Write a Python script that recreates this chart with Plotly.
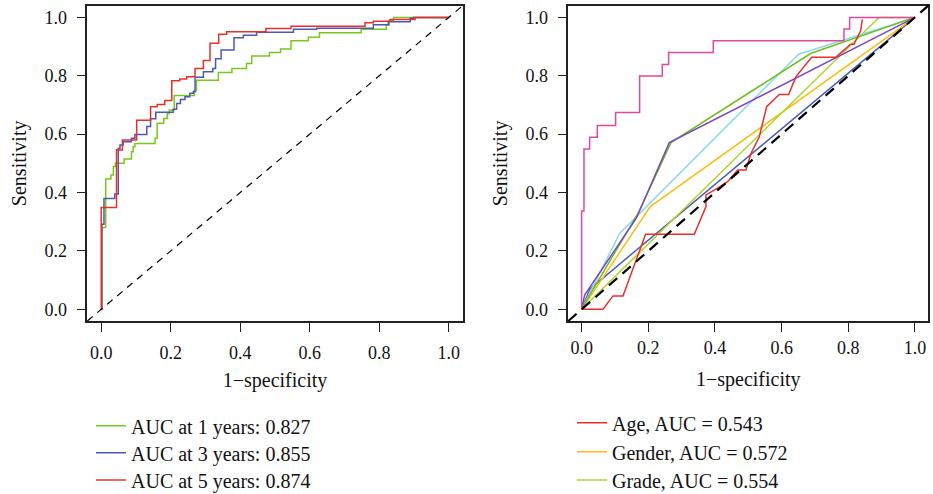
import plotly.graph_objects as go

# ---------------- Left panel: time-dependent ROC ----------------
yr1_x = [0, 0.002, 0.013, 0.028, 0.035, 0.041, 0.066, 0.087, 0.092, 0.097, 0.155, 0.161, 0.180, 0.190, 0.196,
         0.210, 0.268, 0.274, 0.337, 0.376, 0.418, 0.433, 0.484, 0.516, 0.546, 0.596, 0.628, 0.748, 0.820, 0.829,
         0.841, 1.0]
yr1_y = [0, 0.280, 0.446, 0.460, 0.489, 0.500, 0.515, 0.540, 0.557, 0.568, 0.586, 0.637, 0.654, 0.671, 0.683,
         0.732, 0.749, 0.785, 0.811, 0.825, 0.842, 0.868, 0.880, 0.892, 0.920, 0.932, 0.947, 0.959, 0.974, 0.989,
         1.0, 1.0]

yr3_x = [0, 0.002, 0.008, 0.039, 0.049, 0.054, 0.063, 0.087, 0.097, 0.131, 0.142, 0.157, 0.207, 0.217, 0.228,
         0.241, 0.255, 0.265, 0.270, 0.294, 0.321, 0.329, 0.345, 0.382, 0.409, 0.447, 0.553, 0.620, 0.783, 0.826,
         0.889, 0.898, 1.0]
yr3_y = [0, 0.291, 0.380, 0.395, 0.551, 0.563, 0.574, 0.586, 0.599, 0.626, 0.653, 0.675, 0.685, 0.705, 0.719,
         0.728, 0.740, 0.745, 0.795, 0.814, 0.825, 0.858, 0.888, 0.930, 0.939, 0.949, 0.959, 0.963, 0.975, 0.985,
         0.997, 1.0, 1.0]

yr5_x = [0, 0, 0.044, 0.061, 0.102, 0.142, 0.161, 0.183, 0.203, 0.226, 0.246, 0.270, 0.294, 0.313, 0.338,
         0.361, 0.474, 0.546, 0.759, 0.783, 0.831, 0.903, 1.0]
yr5_y = [0, 0.349, 0.546, 0.580, 0.648, 0.694, 0.702, 0.715, 0.783, 0.789, 0.797, 0.825, 0.852, 0.911, 0.942,
         0.951, 0.962, 0.970, 0.982, 0.987, 0.993, 1.0, 1.0]

left_names = ["AUC at 1 years: 0.827", "AUC at 3 years: 0.855", "AUC at 5 years: 0.874"]
left_colors = ["#76C81B", "#4E56B8", "#E8302A"]

# ---------------- Right panel: clinical variables ROC ----------------
age_x = [0, 0.064, 0.094, 0.124, 0.192, 0.338, 0.373, 0.373, 0.403, 0.438, 0.468, 0.493, 0.508, 0.533, 0.555,
         0.593, 0.621, 0.643, 0.690, 0.762, 0.807, 0.817, 0.837, 0.842]
age_y = [0, 0, 0.046, 0.046, 0.257, 0.257, 0.352, 0.392, 0.412, 0.437, 0.477, 0.477, 0.534, 0.591, 0.694,
         0.736, 0.736, 0.797, 0.863, 0.863, 0.908, 0.908, 0.954, 0.993]

gender_x = [0, 0.206, 1.0]
gender_y = [0, 0.352, 1.0]

grade_x = [0, 0.892, 1.0]
grade_y = [0, 1.0, 1.0]

stage_x = [0, 0.03, 0.17, 0.268, 0.688, 1.0]
stage_y = [0, 0.06, 0.33, 0.571, 0.877, 1.0]

t_x = [0, 0.114, 0.651, 1.0]
t_y = [0, 0.26, 0.874, 1.0]

m_x = [0, 0.025, 1.0]
m_y = [0, 0.07, 1.0]

n_x = [0, 0.009, 0.164, 0.263, 1.0]
n_y = [0, 0.049, 0.312, 0.571, 1.0]

risk_x = [0, 0, 0.007, 0.024, 0.047, 0.102, 0.174, 0.242, 0.261, 0.395, 0.787, 0.804, 1.0]
risk_y = [0, 0.337, 0.549, 0.589, 0.630, 0.674, 0.799, 0.839, 0.880, 0.920, 0.960, 1.0, 1.0]

right_names = ["Age, AUC = 0.543", "Gender, AUC = 0.572", "Grade, AUC = 0.554",
               "Stage", "T", "M", "N", "riskScore"]
right_colors = ["#E8302A", "#FBBD12", "#AED52D", "#6DBE1E", "#8ED8E8", "#4E5DB4", "#7D45C0", "#E0489F"]

tick_vals = [0, 0.2, 0.4, 0.6, 0.8, 1.0]
tick_text = ["0.0", "0.2", "0.4", "0.6", "0.8", "1.0"]

FONT = "Liberation Serif"
W, H = 933, 494

# legend row centres (px from top) for each visible legend entry
left_rows = [425.7, 452.7, 480.0]
right_rows = [422.7, 451.7, 480.0]

fig = go.Figure()

left_leg_ids = ["legend", "legend2", "legend3"]
right_leg_ids = ["legend4", "legend5", "legend6"]

for k, (xs, ys, nm, col) in enumerate(zip([yr1_x, yr3_x, yr5_x], [yr1_y, yr3_y, yr5_y], left_names, left_colors)):
    fig.add_trace(go.Scatter(x=xs, y=ys, mode="lines", line=dict(color=col, width=1.5, shape="hv"),
                             name=nm, xaxis="x", yaxis="y", legend=left_leg_ids[k], hoverinfo="skip"))

right_series = [(age_x, age_y, "linear"), (gender_x, gender_y, "linear"), (grade_x, grade_y, "linear"),
                (stage_x, stage_y, "linear"), (t_x, t_y, "linear"), (m_x, m_y, "linear"),
                (n_x, n_y, "linear"), (risk_x, risk_y, "hv")]
order = [5, 1, 2, 4, 3, 6, 0, 7]
for i in order:
    xs, ys, shp = right_series[i]
    fig.add_trace(go.Scatter(x=xs, y=ys, mode="lines",
                             line=dict(color=right_colors[i], width=1.5, shape=shp),
                             name=right_names[i], xaxis="x2", yaxis="y2",
                             legend=right_leg_ids[i] if i < 3 else "legend4",
                             showlegend=i < 3, hoverinfo="skip"))

# reference diagonals
fig.add_shape(type="line", xref="x domain", yref="y domain", x0=0, y0=0, x1=1, y1=1,
              line=dict(color="black", width=1.2, dash="7px,6px"))
fig.add_shape(type="line", xref="x2 domain", yref="y2 domain", x0=0, y0=0, x1=1, y1=1,
              line=dict(color="black", width=2.2, dash="11px,7px"))

ax_common = dict(range=[-0.04, 1.04], tickvals=tick_vals, ticktext=tick_text, showgrid=False, zeroline=False,
                 showline=True, mirror=True, linecolor="#222", linewidth=1.5, ticks="outside", ticklen=9,
                 tickcolor="#222", tickwidth=1.3, tickfont=dict(family=FONT, size=18, color="#111"),
                 title_font=dict(family=FONT, size=20, color="#111"))


def leg(xpx, ypx):
    return dict(x=xpx / W, xanchor="left", y=1 - ypx / H, yanchor="middle", bgcolor="rgba(0,0,0,0)",
                font=dict(family=FONT, size=20, color="#111"), itemwidth=30)


legends = {}
for k, lid in enumerate(left_leg_ids):
    legends[lid] = leg(91, left_rows[k])
for k, lid in enumerate(right_leg_ids):
    legends[lid] = leg(572, right_rows[k])

ydom = [1 - 321 / H, 1 - 5.7 / H]
fig.update_layout(
    width=W, height=H, margin=dict(l=0, r=0, t=0, b=0, autoexpand=False),
    paper_bgcolor="white", plot_bgcolor="white",
    xaxis=dict(domain=[87.3 / W, 462.7 / W], anchor="y", title=dict(text="1\u2212specificity", standoff=11),
               ticklabelstandoff=6, **ax_common),
    yaxis=dict(domain=ydom, anchor="x", title=dict(text="Sensitivity", standoff=12),
               ticklabelstandoff=6, **ax_common),
    xaxis2=dict(domain=[568.3 / W, 928.3 / W], anchor="y2", title=dict(text="1\u2212specificity", standoff=15),
                ticklabelstandoff=1, **ax_common),
    yaxis2=dict(domain=ydom, anchor="x2", title=dict(text="Sensitivity", standoff=12),
                ticklabelstandoff=6, **ax_common),
    showlegend=True,
    **legends,
)

fig.write_html("out.html")
